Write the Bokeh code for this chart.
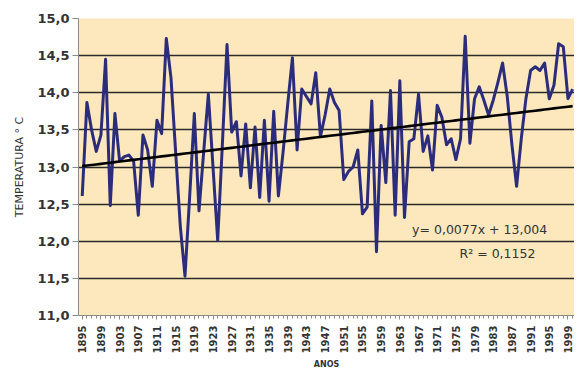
import numpy as np
from bokeh.plotting import figure
from bokeh.models import FixedTicker, Label, Range1d, CustomJSTickFormatter
from bokeh.embed import file_html
from bokeh.resources import INLINE

# ---- data ----
START_YEAR = 1895
TEMPS = [
    12.61, 13.87, 13.50, 13.21, 13.43, 14.45, 12.48, 13.72, 13.08, 13.14,
    13.16, 13.08, 12.35, 13.43, 13.23, 12.74, 13.63, 13.45, 14.73, 14.20,
    13.20, 12.20, 11.53, 12.60, 13.72, 12.41, 13.20, 13.98, 13.00, 12.01,
    13.30, 14.65, 13.47, 13.61, 12.88, 13.58, 12.72, 13.54, 12.59, 13.63,
    12.54, 13.75, 12.61, 13.20, 13.85, 14.47, 13.23, 14.05, 13.95, 13.85,
    14.27, 13.41, 13.70, 14.05, 13.87, 13.76, 12.83, 12.94, 13.00, 13.23,
    12.37, 12.46, 13.89, 11.86, 13.56, 12.79, 14.03, 12.35, 14.16, 12.32,
    13.34, 13.38, 13.98, 13.21, 13.42, 12.96, 13.83, 13.67, 13.30, 13.38,
    13.10, 13.38, 14.76, 13.32, 13.92, 14.08, 13.90, 13.70, 13.90, 14.14,
    14.40, 13.95, 13.30, 12.74, 13.38, 13.92, 14.30, 14.35, 14.30, 14.40,
    13.92, 14.10, 14.66, 14.62, 13.92, 14.05,
]
YEARS = [START_YEAR + i for i in range(len(TEMPS))]
X_TICK_YEARS = list(range(1895, 2000, 4))
Y_TICKS = [11.0, 11.5, 12.0, 12.5, 13.0, 13.5, 14.0, 14.5, 15.0]
GRID_TICKS = [11.5, 12.0, 12.5, 13.0, 13.5, 14.0, 14.5]
TREND_SLOPE = 0.0077
TREND_INTERCEPT = 13.004
R_SQUARED = 0.1152

EQ_TEXT = "y= 0,0077x + 13,004"
R2_TEXT = "R² = 0,1152"

FONT = "DejaVu Sans"
TXT = "#333333"

p = figure(
    width=574, height=372,
    output_backend="svg", toolbar_location=None,
    x_range=Range1d(1894.2, 2000.4), y_range=Range1d(11.0, 15.0),
    min_border_left=78, min_border_right=0, min_border_top=18, min_border_bottom=52,
    background_fill_color="#FDE8BD", border_fill_color="white",
    outline_line_color=None,
)

# data line
p.line(YEARS, TEMPS, line_color="#2B2D7C", line_width=3, line_join="round")

# trend line from its equation (x = 1..n)
idx = np.arange(1, len(TEMPS) + 1)
trend = TREND_SLOPE * idx + TREND_INTERCEPT
p.line(YEARS, trend, line_color="#000000", line_width=2.6)

# grids
p.xgrid.visible = False
p.ygrid.ticker = FixedTicker(ticks=GRID_TICKS)
p.ygrid.grid_line_color = "#2a2a2a"
p.ygrid.grid_line_width = 1.4
p.ygrid.level = "underlay"

# y axis
ya = p.yaxis[0]
ya.ticker = FixedTicker(ticks=Y_TICKS)
ya.formatter = CustomJSTickFormatter(code="return tick.toFixed(1).replace('.', ',');")
ya.major_label_text_font = FONT
ya.major_label_text_font_style = "bold"
ya.major_label_text_font_size = "13px"
ya.major_label_text_color = TXT
ya.major_tick_out = 6
ya.major_tick_in = 0
ya.minor_tick_out = 0
ya.minor_tick_in = 0
ya.major_label_standoff = 3
ya.axis_line_color = "#8a8a8a"
ya.major_tick_line_color = "#8a8a8a"
ya.axis_label = "TEMPERATURA ° C"
ya.axis_label_text_font = FONT
ya.axis_label_text_font_style = "normal"
ya.axis_label_text_font_size = "11px"
ya.axis_label_text_color = TXT
ya.axis_label_standoff = 8

# x axis
xa = p.xaxis[0]
xa.ticker = FixedTicker(ticks=X_TICK_YEARS, minor_ticks=YEARS)
xa.formatter = CustomJSTickFormatter(code="return tick.toFixed(0);")
xa.major_label_orientation = np.pi / 2
xa.major_label_text_font = FONT
xa.major_label_text_font_style = "bold"
xa.major_label_text_font_size = "10px"
xa.major_label_text_color = TXT
xa.major_tick_out = 4
xa.major_tick_in = 0
xa.minor_tick_out = 3
xa.minor_tick_in = 0
xa.major_label_standoff = 6
xa.axis_line_color = "#8a8a8a"
xa.major_tick_line_color = "#8a8a8a"
xa.minor_tick_line_color = "#8a8a8a"
xa.axis_label = "ANOS"
xa.axis_label_text_font = FONT
xa.axis_label_text_font_style = "bold"
xa.axis_label_text_font_size = "8px"
xa.axis_label_text_color = TXT
xa.axis_label_standoff = 4

# regression annotation
p.add_layout(Label(x=1980.1, y=12.16, text=EQ_TEXT, text_align="center",
                   text_baseline="middle", text_font=FONT, text_font_size="12.5px",
                   text_color=TXT))
p.add_layout(Label(x=1983.9, y=11.84, text=R2_TEXT, text_align="center",
                   text_baseline="middle", text_font=FONT, text_font_size="12.5px",
                   text_color=TXT))

open("out.html", "w").write(file_html(p, INLINE))
